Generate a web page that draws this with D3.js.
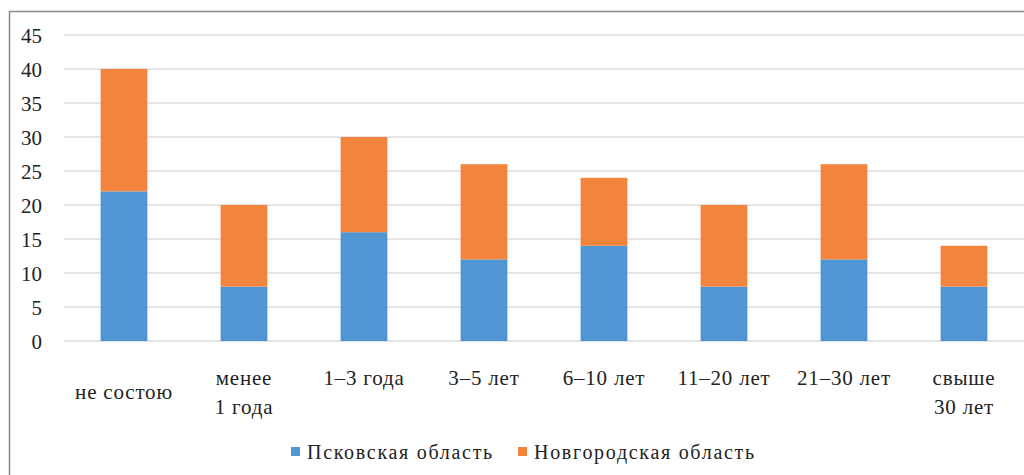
<!DOCTYPE html>
<html lang="ru">
<head>
<meta charset="UTF-8">
<title>Стаж</title>
<script src="https://d3js.org/d3.v7.min.js"></script>
<style>
  body { margin: 0; background: #fff; }
  svg text { font-family: "Liberation Serif", Tinos, "DejaVu Serif", "Times New Roman", serif; fill: #222; }
</style>
</head>
<body>
<svg id="chart" width="1024" height="475"></svg>
<script>
// категории и данные
var categories = ["не состою", "менее\n1 года", "1–3 года", "3–5 лет", "6–10 лет", "11–20 лет", "21–30 лет", "свыше\n30 лет"];
var pskov = [22, 8, 16, 12, 14, 8, 12, 8];
var novgorod = [18, 12, 14, 14, 10, 12, 14, 6];
var seriesNames = ["Псковская область", "Новгородская область"];
var yTicks = [0, 5, 10, 15, 20, 25, 30, 35, 40, 45];

var colors = ["#4f96d3", "#f2843d"];
var svg = d3.select("#chart");

// рамка
svg.append("rect")
    .attr("x", 9.5).attr("y", 11.5)
    .attr("width", 1030).attr("height", 480)
    .attr("fill", "none").attr("stroke", "#8a8a8a").attr("stroke-width", 1.5);

var x = d3.scaleBand().domain(categories).range([64, 1024]).paddingInner(0.61).paddingOuter(0.305);
var y = d3.scaleLinear().domain([0, 45]).range([341, 35]);

// сетка
svg.selectAll(".grid")
    .data(yTicks)
    .enter().append("line")
    .attr("x1", 64).attr("x2", 1024)
    .attr("y1", d => y(d)).attr("y2", d => y(d))
    .attr("stroke", "#dcdcdc").attr("stroke-width", 1.5);

// подписи оси Y
svg.selectAll(".ytick")
    .data(yTicks)
    .enter().append("text")
    .attr("x", 42)
    .attr("y", d => y(d))
    .attr("dy", "0.36em")
    .attr("text-anchor", "end")
    .style("font-size", "21px")
    .text(d => d);

// стек
var rows = categories.map((c, i) => ({ cat: c, s0: pskov[i], s1: novgorod[i] }));
var stacked = d3.stack().keys(["s0", "s1"])(rows);

svg.selectAll(".layer")
    .data(stacked)
    .enter().append("g")
    .attr("fill", (d, i) => colors[i])
    .selectAll("rect")
    .data(d => d)
    .enter().append("rect")
    .attr("x", d => x(d.data.cat))
    .attr("width", x.bandwidth())
    .attr("y", d => y(d[1]))
    .attr("height", d => y(d[0]) - y(d[1]));

// подписи категорий
categories.forEach(function(c) {
    var lines = c.split("\n");
    var cx = x(c) + x.bandwidth() / 2;
    var t = svg.append("text")
        .attr("text-anchor", "middle")
        .style("font-size", "21px")
        .style("letter-spacing", "0.8px");
    if (c === "не состою") {
        t.append("tspan").attr("x", cx).attr("y", 399).text(c);
    } else {
        lines.forEach(function(l, k) {
            t.append("tspan").attr("x", cx).attr("y", 385 + k * 29).text(l);
        });
    }
});

// легенда
var legendX = [291, 518];
seriesNames.forEach(function(name, i) {
    svg.append("rect")
        .attr("x", legendX[i]).attr("y", 447)
        .attr("width", 9).attr("height", 9)
        .attr("fill", colors[i]);
    svg.append("text")
        .attr("x", legendX[i] + 16).attr("y", 459)
        .style("font-size", "20px")
        .style("letter-spacing", "1.7px")
        .text(name);
});
</script>
</body>
</html>
